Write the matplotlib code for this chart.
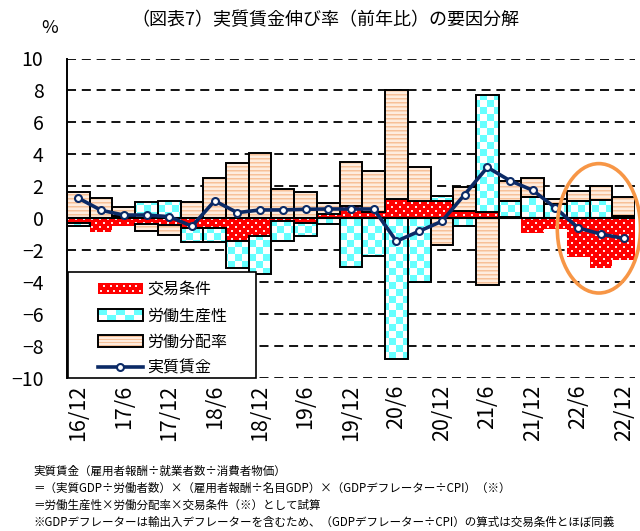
import numpy as np
import matplotlib
matplotlib.use('Agg')
import matplotlib.pyplot as plt
from matplotlib.patches import Rectangle, Ellipse, Patch
from matplotlib.path import Path
from matplotlib.legend_handler import HandlerBase
from matplotlib.lines import Line2D

plt.rcParams['font.family'] = ['Noto Sans CJK JP', 'DejaVu Sans']

categories = ['16/12', '17/3', '17/6', '17/9', '17/12', '18/3', '18/6', '18/9', '18/12',
              '19/3', '19/6', '19/9', '19/12', '20/3', '20/6', '20/9', '20/12',
              '21/3', '21/6', '21/9', '21/12', '22/3', '22/6', '22/9', '22/12']

terms_of_trade = [-0.28, -0.86, -0.5, -0.35, -0.45, -0.6, -0.6, -1.42, -1.09, -0.2, -0.28, 0.27,
                  0.75, 0.4, 1.21, 1.1, 1.06, 0.48, 0.4, 0.1, -0.95, -0.7, -2.45, -3.14, -2.62]
productivity = [-0.2, 0.0, 0.15, 1.03, 1.09, -0.88, -0.89, -1.72, -2.37, -1.2, -0.81, -0.35,
                -3.06, -2.38, -8.8, -3.98, 0.36, -0.5, 7.3, 1.0, 1.35, 0.9, 1.1, 1.16, 0.15]
labor_share = [1.66, 1.26, 0.56, -0.45, -0.57, 1.03, 2.51, 3.48, 4.1, 1.83, 1.66, 0.67,
               2.8, 2.54, 6.79, 2.1, -1.65, 1.48, -4.2, 1.25, 1.2, 0.28, 0.6, 0.88, 1.18]
real_wage = [1.26, 0.5, 0.2, 0.2, 0.1, -0.5, 1.09, 0.35, 0.52, 0.52, 0.56, 0.58, 0.58, 0.58,
             -1.44, -0.81, -0.19, 1.48, 3.19, 2.35, 1.75, 0.65, -0.61, -0.99, -1.26]

series_names = ['交易条件', '労働生産性', '労働分配率']
line_name = '実質賃金'
title = '（図表7）実質賃金伸び率（前年比）の要因分解'
notes = ['実質賃金（雇用者報酬÷就業者数÷消費者物価）',
         '＝（実質GDP÷労働者数）×（雇用者報酬÷名目GDP）×（GDPデフレーター÷CPI）（※）',
         '＝労働生産性×労働分配率×交易条件（※）として試算',
         '※GDPデフレーターは輸出入デフレーターを含むため、（GDPデフレーター÷CPI）の算式は交易条件とほぼ同義']

FW, FH = 640, 531
fig = plt.figure(figsize=(FW / 100, FH / 100), dpi=100)
L, R, B, T = 67 / FW, 635 / FW, 1 - 378 / FH, 1 - 58.5 / FH
ax = fig.add_axes([L, B, R - L, T - B])

n = len(categories)
x = np.arange(n)
XL = (-0.5, n - 0.5)
YL = (-10, 10)

# pattern images
W = int(round((R - L) * FW))
H = int(round((T - B) * FH))
yy, xx = np.mgrid[0:H, 0:W]

red_img = np.ones((H, W, 3)) * np.array([1.0, 0.0, 0.0])
dots = (((yy % 8) < 2) & ((xx % 8) < 2)) | ((((yy + 4) % 8) < 2) & (((xx + 4) % 8) < 2))
red_img[dots] = [1.0, 0.9, 0.9]

cyan_img = np.ones((H, W, 3))
chk = ((xx // 7 + yy // 7) % 2) == 0
cyan_img[chk] = [0.4, 1.0, 1.0]

orange_img = np.ones((H, W, 3)) * np.array([254, 236, 222]) / 255
orange_img[(yy % 4) == 0] = np.array([247, 192, 152]) / 255
orange_img[(yy % 4) == 1] = np.array([250, 214, 186]) / 255

imgs = [red_img, cyan_img, orange_img]
edge = ['none', 'black', 'black']

pos_base = np.zeros(n)
neg_base = np.zeros(n)
for vals, img, ec in zip([terms_of_trade, productivity, labor_share], imgs, edge):
    v = np.array(vals)
    bottoms = np.where(v >= 0, pos_base, neg_base)
    bars = ax.bar(x, v, width=1.0, bottom=bottoms, facecolor='none', edgecolor=ec,
                  linewidth=1.4, zorder=3)
    paths = [p.get_patch_transform().transform_path(p.get_path()) for p in bars]
    im = ax.imshow(img, extent=(XL[0], XL[1], YL[0], YL[1]), origin='upper',
                   interpolation='nearest', aspect='auto', zorder=2)
    im.set_clip_path(Path.make_compound_path(*paths), ax.transData)
    pos_base += np.clip(v, 0, None)
    neg_base += np.clip(v, None, 0)

navy = '#0B2A66'
ax.plot(x, real_wage, color=navy, lw=2.6, marker='o', ms=5, mfc='white', mec=navy,
        mew=1.5, zorder=5)

for yv in range(-10, 11, 2):
    if yv != 0:
        ax.axhline(yv, color='black', lw=1.3, ls=(0, (5, 3.2)), zorder=1)
ax.axhline(0, color='black', lw=1.5, zorder=3.5)

ax.set_xlim(*XL)
ax.set_ylim(*YL)
ax.set_yticks(range(-10, 11, 2))
ax.tick_params(axis='y', length=0, pad=17, labelsize=14)
ax.set_xticks(x[::2])
ax.set_xticklabels(categories[::2], rotation=90, fontsize=15.5)
ax.tick_params(axis='x', length=0, pad=5)
for s in ['top', 'right', 'bottom']:
    ax.spines[s].set_visible(False)
ax.spines['left'].set_linewidth(1.4)

# ellipse highlight
ax.add_patch(Ellipse((22.91, -0.63), 3.66, 8.1, fill=False, edgecolor='#F79646', lw=2.6,
                     clip_on=False, zorder=6))


class PatternHandler(HandlerBase):
    def __init__(self, kind):
        super().__init__()
        self.kind = kind

    def create_artists(self, legend, orig_handle, xdescent, ydescent, width, height,
                       fontsize, trans):
        x0, y0 = -xdescent, -ydescent
        arts = []
        if self.kind == 'red':
            arts.append(Rectangle((x0, y0), width, height, fc='red', ec='none', transform=trans))
            nx = 7
            for i in range(nx):
                for j, yf in enumerate([0.3, 0.75]):
                    xf = (i + 0.5 + 0.5 * j) / nx
                    if xf < 1:
                        arts.append(Rectangle((x0 + xf * width - 0.7, y0 + yf * height - 0.7), 1.4, 1.4,
                                              fc='#ffe6e6', ec='none', transform=trans))
        elif self.kind == 'cyan':
            arts.append(Rectangle((x0, y0), width, height, fc='white', ec='none', transform=trans))
            nx, ny = 5, 2
            for i in range(nx):
                for j in range(ny):
                    if (i + j) % 2 == 1:
                        arts.append(Rectangle((x0 + i * width / nx, y0 + j * height / ny),
                                              width / nx, height / ny, fc='#66ffff', ec='none',
                                              transform=trans))
            arts.append(Rectangle((x0, y0), width, height, fc='none', ec='black', lw=1.4,
                                  transform=trans))
        else:
            arts.append(Rectangle((x0, y0), width, height, fc='#FEECDE', ec='none', transform=trans))
            k = 4
            for j in range(k):
                arts.append(Rectangle((x0, y0 + (j + 0.35) * height / k), width, height / k * 0.35,
                                      fc='#F7C098', ec='none', transform=trans))
            arts.append(Rectangle((x0, y0), width, height, fc='none', ec='black', lw=1.4,
                                  transform=trans))
        return arts


h_red, h_cyan, h_orange = Patch(), Patch(), Patch()
h_line = Line2D([], [], color=navy, lw=2.6, marker='o', ms=5, mfc='white', mec=navy, mew=1.5)
ax.add_patch(Rectangle((0.002, 0), (255 - 67) / 567.5, (378 - 272) / 320, transform=ax.transAxes,
                       fc='white', ec='black', lw=1.2, zorder=7, clip_on=False))
leg = ax.legend([h_red, h_cyan, h_orange, h_line], series_names + [line_name],
                handler_map={h_red: PatternHandler('red'), h_cyan: PatternHandler('cyan'),
                             h_orange: PatternHandler('orange')},
                loc='upper left', bbox_to_anchor=((98 - 67) / 567.5, (378 - 281) / 320),
                frameon=False, fontsize=11.5, handlelength=2.8, handleheight=0.75,
                handletextpad=0.3, labelspacing=0.58, borderpad=0, borderaxespad=0)
leg.set_zorder(8)

fig.text(325 / FW, 1 - 20 / FH, title, ha='center', va='center', fontsize=13)
fig.text(50 / FW, 1 - 28 / FH, '%', ha='center', va='center', fontsize=13)
for i, t in enumerate(notes):
    fig.text(33 / FW, 1 - (471 + 17 * i) / FH, t, ha='left', va='center', fontsize=8.3)

fig.savefig('out.png', dpi=100)
